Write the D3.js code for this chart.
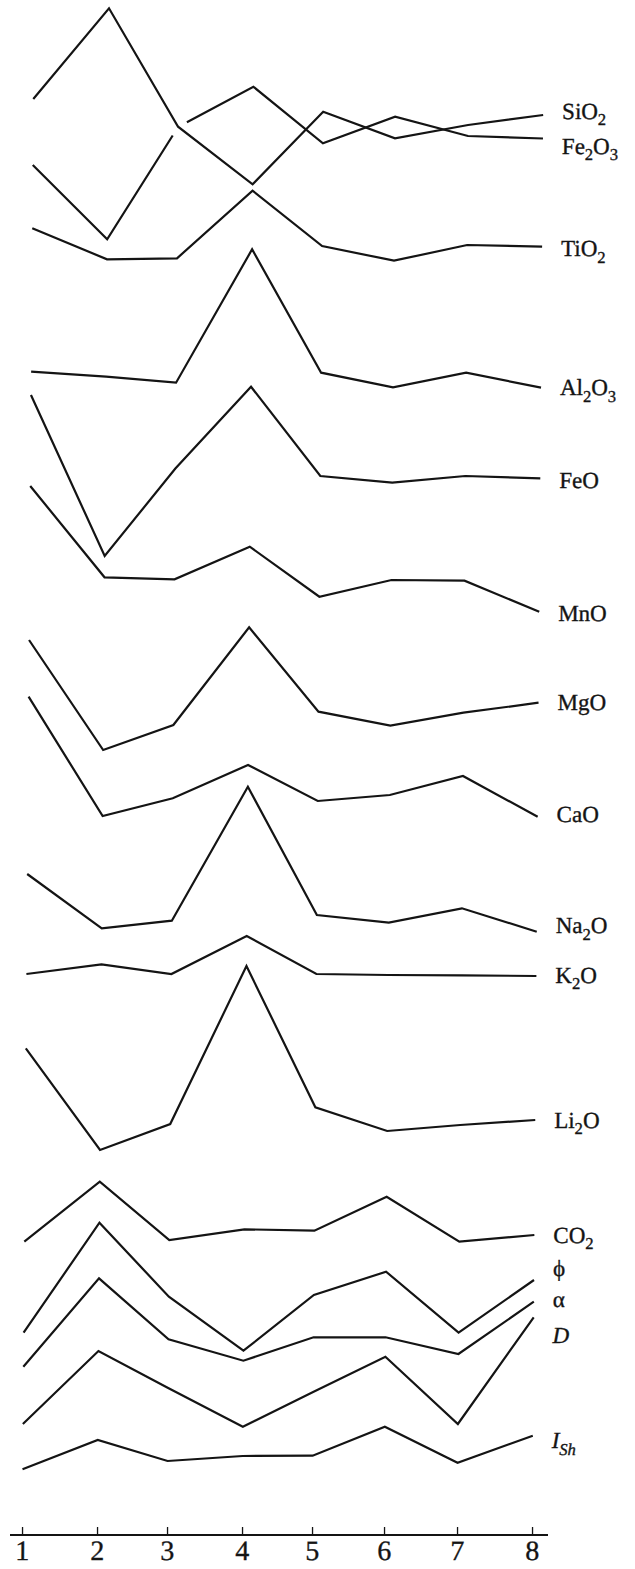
<!DOCTYPE html>
<html>
<head>
<meta charset="utf-8">
<script src="https://cdn.jsdelivr.net/npm/d3@7"></script>
<style>
  html, body { margin: 0; padding: 0; background: #fff; }
  svg { display: block; }
</style>
</head>
<body>
<svg id="chart" width="635" height="1569"></svg>
<script>
// Sample numbers along the profile (x axis)
const samples = [1, 2, 3, 4, 5, 6, 7, 8];

// Profile levels of each property, read on one common vertical scale
// (relative units above the base line; every curve is offset in its own band)
const SiO2  = [1436, 1526.7, 1408.3, 1350.7, 1423.3, 1396.7, 1410, 1420];
const Fe2O3 = [1370, 1295.7, 1408, 1448.3, 1391.7, 1418.3, 1399, 1396.5];
const TiO2  = [1306.7, 1275.7, 1276.7, 1344.3, 1289, 1274.3, 1290, 1288.3];
const Al2O3 = [1163.3, 1158.3, 1152.3, 1285.7, 1162.3, 1147.7, 1162.3, 1147.3];
const FeO   = [1140, 979, 1066.5, 1148.3, 1059, 1052.3, 1059, 1056.7];
const MnO   = [1049, 957.7, 955.7, 988.3, 938.3, 955, 954.3, 923.3];
const MgO   = [895, 785, 810, 907.7, 823.3, 809.3, 822.3, 832.3];
const CaO   = [838.3, 719, 736.7, 770, 734, 740, 759, 718.3];
const Na2O  = [661, 606.7, 614.3, 748.3, 620, 612.3, 626.7, 603.3];
const K2O   = [561, 570.7, 561, 599, 561, 560, 559.7, 559];
const Li2O  = [486.7, 385, 411, 569, 427.7, 404, 410, 415];
const CO2   = [293.3, 353.3, 295, 305.7, 304.3, 338.3, 293.3, 300];
const phi   = [202.3, 312.3, 238.3, 184.3, 240, 263.3, 202.3, 255];
const alpha = [168.3, 256.7, 195.7, 174.3, 197.7, 197.7, 181, 233.3];
const Dval  = [111, 184, 147, 108.3, 143, 178.3, 111, 217.7];
const ISh   = [65.7, 95, 74, 79, 79.3, 108.3, 72.3, 99.3];

// Curve labels ("_x" or "_{xy}" marks a subscript)
const seriesNames  = ["SiO_2", "Fe_2O_3", "TiO_2", "Al_2O_3", "FeO", "MnO", "MgO", "CaO",
                      "Na_2O", "K_2O", "Li_2O", "CO_2", "\u03D5", "\u03B1", "D", "I_{Sh}"];
const seriesValues = [SiO2, Fe2O3, TiO2, Al2O3, FeO, MnO, MgO, CaO,
                      Na2O, K2O, Li2O, CO2, phi, alpha, Dval, ISh];
const italicNames  = ["D", "I_{Sh}"];

// ---- layout ----
const W = 635, H = 1569;
const baseY = 1535;
const tickX = [22, 97, 167, 242, 312, 384, 457, 532];   // sample stations along the base line
const labelGap = 19;
// vertical nudge of each label relative to its curve end (px)
const labelNudge = [-4, 7.5, 2, 0, 2, 2, 0, -2, -6, -1, 0, 0, -12, -2, 18, 5];
const labelSize = 23, tickSize = 28;
const ink = "#141414";
const serif = "'Liberation Serif', 'Times New Roman', serif";

const svg = d3.select("#chart");
svg.append("rect").attr("width", W).attr("height", H).attr("fill", "#fff");

// whole figure sits with a slight lean (top drifts right)
const plot = svg.append("g")
  .attr("transform", `translate(0,${baseY}) skewX(-0.45) translate(0,${-baseY})`);

const x = d3.scaleLinear().domain(samples).range(tickX);
const y = d3.scaleLinear().domain([0, baseY]).range([baseY, 0]);

const line = d3.line()
  .x((d, i) => x(samples[i]))
  .y(d => y(d));

const curves = plot.append("g")
  .attr("fill", "none")
  .attr("stroke", ink)
  .attr("stroke-width", 2.2)
  .attr("stroke-linejoin", "miter")
  .attr("stroke-miterlimit", 10);

seriesValues.forEach((vals, k) => {
  const p = curves.append("path").attr("d", line(vals));
  if (seriesNames[k] === "Fe_2O_3") {
    // Fe2O3 is broken where it meets the SiO2 curve at sample 3
    const pts = vals.map((v, i) => [x(samples[i]), y(v)]);
    const seg = (a, b) => Math.hypot(b[0] - a[0], b[1] - a[1]);
    const at3 = seg(pts[0], pts[1]) + seg(pts[1], pts[2]);
    const total = p.node().getTotalLength();
    p.attr("stroke-dasharray", `${at3 - 10} 20 ${total}`);
  }
});

// ---- labels at the right end of each curve ----
function writeLabel(textSel, name) {
  const parts = name.split(/_(\{[^}]*\}|.)/);
  const drop = 0.3 * labelSize;
  let lowered = false;
  parts.forEach((part, i) => {
    if (!part) return;
    const isSub = i % 2 === 1;
    const t = textSel.append("tspan").text(isSub ? part.replace(/[{}]/g, "") : part);
    if (isSub && !lowered) { t.attr("dy", drop); lowered = true; }
    if (!isSub && lowered) { t.attr("dy", -drop); lowered = false; }
    if (isSub) t.attr("font-size", labelSize * 0.72);
  });
}

const labels = plot.append("g")
  .attr("font-family", serif)
  .attr("font-size", labelSize)
  .attr("fill", ink)
  .attr("stroke", ink)
  .attr("stroke-width", 0.35);

seriesValues.forEach((vals, k) => {
  const name = seriesNames[k];
  const t = labels.append("text")
    .attr("x", x(samples[samples.length - 1]) + labelGap)
    .attr("y", y(vals[vals.length - 1]) + labelNudge[k] + 0.33 * labelSize)
    .attr("font-style", italicNames.includes(name) ? "italic" : "normal");
  writeLabel(t, name);
});

// ---- sample axis ----
const axis = d3.axisBottom(x)
  .tickValues(samples)
  .tickFormat(d3.format("d"))
  .tickSizeInner(-8)
  .tickSizeOuter(0)
  .tickPadding(5);

const gAxis = plot.append("g")
  .attr("transform", `translate(0,${y(0)})`)
  .call(axis);
gAxis.select(".domain").remove();
gAxis.selectAll(".tick line").attr("stroke", ink).attr("stroke-width", 1.3);
gAxis.selectAll(".tick text")
  .attr("fill", ink)
  .attr("stroke", ink)
  .attr("stroke-width", 0.35)
  .attr("font-family", serif)
  .attr("font-size", tickSize);
gAxis.append("line")
  .attr("x1", x(1) - 12).attr("x2", x(8) + 16)
  .attr("y1", 0).attr("y2", 0)
  .attr("stroke", ink).attr("stroke-width", 2);
</script>
</body>
</html>
